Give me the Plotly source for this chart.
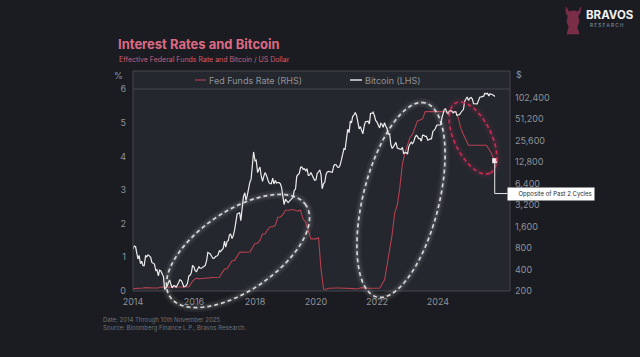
import numpy as np
import plotly.graph_objects as go

# ---------------- data ----------------
# Bitcoin (USD), semi-monthly (1st and 15th of each month)
btc_2014 = [770, 850, 830, 650, 560, 630, 480, 520, 450, 450, 630, 600,
            640, 620, 590, 500, 480, 475, 385, 395, 325, 390, 380, 345]
btc_2015 = [315, 210, 225, 235, 260, 285, 245, 220, 235, 237, 225, 237,
            260, 285, 280, 260, 228, 230, 237, 255, 325, 330, 360, 455]
btc_2016 = [430, 385, 372, 405, 435, 415, 416, 430, 450, 455, 535, 690,
            675, 660, 605, 570, 575, 608, 615, 640, 730, 710, 755, 780]
btc_2017 = [1000, 820, 990, 1010, 1220, 1250, 1080, 1180, 1420, 1750, 2400, 2450,
            2490, 1930, 2720, 4150, 4740, 3700, 4400, 5700, 6740, 7300, 10900, 17700]
btc_2018 = [13400, 13600, 9100, 10000, 10900, 8300, 6850, 8000, 9100, 8500, 7500, 6600,
            6350, 6350, 7600, 6300, 7050, 6500, 6600, 6600, 6350, 5600, 4200, 3250]
btc_2019 = [3850, 3600, 3450, 3600, 3800, 3900, 4100, 5100, 5350, 8000, 8550, 8850,
            10800, 10900, 10100, 10300, 9600, 10300, 8300, 8350, 9150, 8500, 7550, 7100]
btc_2020 = [7200, 8800, 9350, 9900, 8600, 5400, 6400, 6600, 8650, 9300, 9450, 9400,
            9140, 9200, 11350, 11800, 11650, 10800, 10780, 11500, 13800, 16000, 19700, 19300]
btc_2021 = [29000, 36800, 33100, 47900, 45200, 55600, 58800, 63000, 57700, 46500, 37300, 40100,
            35000, 31800, 41500, 47000, 47100, 48100, 43800, 61500, 61300, 64000, 57000, 48900]
btc_2022 = [46300, 43100, 38500, 44500, 43200, 39300, 45500, 40500, 37700, 31300, 31800, 22500,
            19800, 20800, 23300, 24100, 20050, 19700, 19400, 19100, 20500, 16900, 17200, 17400]
btc_2023 = [16550, 20900, 23100, 24300, 23150, 24400, 28500, 30300, 29250, 27200, 27200, 25100,
            30500, 30300, 29200, 29200, 25900, 26600, 27000, 27000, 34500, 35500, 37700, 42000]
btc_2024 = [42300, 42500, 42600, 51900, 61200, 69500, 71300, 63400, 60600, 66200, 67500, 66100,
            62700, 64800, 64600, 57500, 58900, 59200, 63300, 67000, 70200, 91000, 96400, 104500]
btc_2025 = [93400, 100500, 102400, 97500, 84300, 84300, 82500, 83600, 94200, 103700, 104600, 105500,
            107100, 117800, 115700, 117400, 108200, 116000, 114000, 111000, 109500, 106000]

# Effective Federal Funds Rate (%), monthly
ffr_2014 = [0.07, 0.07, 0.08, 0.09, 0.09, 0.10, 0.09, 0.09, 0.09, 0.09, 0.09, 0.12]
ffr_2015 = [0.11, 0.11, 0.11, 0.12, 0.12, 0.13, 0.13, 0.14, 0.14, 0.12, 0.12, 0.24]
ffr_2016 = [0.34, 0.38, 0.36, 0.37, 0.37, 0.38, 0.39, 0.40, 0.40, 0.40, 0.41, 0.54]
ffr_2017 = [0.65, 0.66, 0.79, 0.90, 0.91, 1.04, 1.15, 1.16, 1.15, 1.15, 1.16, 1.30]
ffr_2018 = [1.41, 1.42, 1.51, 1.69, 1.70, 1.82, 1.91, 1.91, 1.95, 2.19, 2.20, 2.27]
ffr_2019 = [2.40, 2.40, 2.41, 2.42, 2.39, 2.38, 2.40, 2.13, 2.04, 1.83, 1.55, 1.55]
ffr_2020 = [1.55, 1.58, 0.65, 0.05, 0.05, 0.08, 0.09, 0.10, 0.09, 0.09, 0.09, 0.09]
ffr_2021 = [0.09, 0.08, 0.07, 0.07, 0.06, 0.08, 0.10, 0.09, 0.08, 0.08, 0.08, 0.08]
ffr_2022 = [0.08, 0.08, 0.20, 0.33, 0.77, 1.21, 1.68, 2.33, 2.56, 3.08, 3.78, 4.10]
ffr_2023 = [4.33, 4.57, 4.65, 4.83, 5.06, 5.08, 5.12, 5.33, 5.33, 5.33, 5.33, 5.33]
ffr_2024 = [5.33, 5.33, 5.33, 5.33, 5.33, 5.33, 5.33, 5.33, 5.13, 4.83, 4.64, 4.48]
ffr_2025 = [4.33, 4.33, 4.33, 4.33, 4.33, 4.33, 4.33, 4.33, 4.22, 4.09, 3.87]

years = list(range(2014, 2026))
x_tick_years = [2014, 2016, 2018, 2020, 2022, 2024]
left_ticks = [0, 1, 2, 3, 4, 5, 6]
right_ticks = [200, 400, 800, 1600, 3200, 6400, 12800, 25600, 51200, 102400]

btc_values = (btc_2014 + btc_2015 + btc_2016 + btc_2017 + btc_2018 + btc_2019 +
              btc_2020 + btc_2021 + btc_2022 + btc_2023 + btc_2024 + btc_2025)
ffr_values = (ffr_2014 + ffr_2015 + ffr_2016 + ffr_2017 + ffr_2018 + ffr_2019 +
              ffr_2020 + ffr_2021 + ffr_2022 + ffr_2023 + ffr_2024 + ffr_2025)

btc_dates = []
for y in years:
    for m in range(1, 13):
        for d in (1, 15):
            btc_dates.append(f"{y}-{m:02d}-{d:02d}")
btc_dates = btc_dates[:len(btc_values) - 1] + ["2025-11-10"]

ffr_dates = []
for y in years:
    for m in range(1, 13):
        ffr_dates.append(f"{y}-{m:02d}-01")
ffr_dates = ffr_dates[:len(ffr_values) - 1] + ["2025-11-10"]

# ---------------- layout geometry (pixels) ----------------
W, H = 640, 357
L, R, T, B = 133, 510, 89, 291
PW, PH = R - L, B - T


def px(x):
    return (x - L) / PW


def py(y):
    return (B - y) / PH


BG = "#1a1c21"
PLOT_BG = "#24272e"
TICK_COL = "#8f929a"
FONT = "Inter, Roboto, sans-serif"

fig = go.Figure()

fig.add_trace(go.Scatter(
    x=ffr_dates, y=ffr_values, yaxis="y", mode="lines",
    line=dict(color="#b3404f", width=1.1), name="Fed Funds Rate (RHS)",
    showlegend=False, hoverinfo="skip"))
fig.add_trace(go.Scatter(
    x=btc_dates, y=btc_values, yaxis="y2", mode="lines",
    line=dict(color="#ececec", width=1.2), name="Bitcoin (LHS)",
    showlegend=False, hoverinfo="skip"))

shapes = []
annotations = []

# frame with legend strip
shapes.append(dict(type="rect", xref="paper", yref="paper", x0=0, x1=1, y0=1, y1=py(71),
                   fillcolor=PLOT_BG, line=dict(width=0), layer="below"))
shapes.append(dict(type="rect", xref="paper", yref="paper", x0=0, x1=1, y0=0, y1=py(71),
                   line=dict(color="#44474f", width=1), layer="above"))
shapes.append(dict(type="line", xref="paper", yref="paper", x0=0, x1=1, y0=1, y1=1,
                   line=dict(color="#44474f", width=1), layer="above"))

# legend (manual)
shapes.append(dict(type="line", xref="paper", yref="paper", x0=px(195), x1=px(206),
                   y0=py(80), y1=py(80), line=dict(color="#b3404f", width=1.2)))
annotations.append(dict(text="Fed Funds Rate (RHS)", xref="paper", yref="paper",
                        x=px(207), y=py(80), xanchor="left", yanchor="middle",
                        showarrow=False, font=dict(size=9, color=TICK_COL, family=FONT)))
shapes.append(dict(type="line", xref="paper", yref="paper", x0=px(350), x1=px(362),
                   y0=py(80), y1=py(80), line=dict(color="#ececec", width=1.4)))
annotations.append(dict(text="Bitcoin (LHS)", xref="paper", yref="paper",
                        x=px(363), y=py(80), xanchor="left", yanchor="middle",
                        showarrow=False, font=dict(size=9, color=TICK_COL, family=FONT)))


def ellipse_path(cx, cy, a, b, theta_deg, n=140):
    t = np.linspace(0, 2 * np.pi, n)
    th = np.radians(theta_deg)
    xs = cx + a * np.cos(t) * np.cos(th) - b * np.sin(t) * np.sin(th)
    ys = cy - (a * np.cos(t) * np.sin(th) + b * np.sin(t) * np.cos(th))
    pts = [f"{px(x):.5f},{py(y):.5f}" for x, y in zip(xs, ys)]
    return "M " + " L ".join(pts) + " Z"


def glow_ellipse(cx, cy, a, b, th, color):
    p = ellipse_path(cx, cy, a, b, th)
    shapes.append(dict(type="path", xref="paper", yref="paper", path=p,
                       line=dict(color=color, width=9), opacity=0.05))
    shapes.append(dict(type="path", xref="paper", yref="paper", path=p,
                       line=dict(color=color, width=4.5), opacity=0.10))
    shapes.append(dict(type="path", xref="paper", yref="paper", path=p,
                       line=dict(color=color, width=1.7, dash="4px,3px"), opacity=0.9))


glow_ellipse(238, 251, 82, 40, 34, "#e8e8e8")
glow_ellipse(401, 200, 100, 38, 76, "#e8e8e8")
glow_ellipse(473, 138, 39, 18.5, -64, "#d42f58")

# end marker + connector to callout
last_date = ffr_dates[-1]
last_ffr = ffr_values[-1]
conn_y = 6 * (B - 193.5) / PH
shapes.append(dict(type="line", xref="x", yref="y", x0=last_date, x1=last_date,
                   y0=last_ffr, y1=conn_y, line=dict(color="#e6e6e6", width=1)))
shapes.append(dict(type="line", xref="x", yref="y", x0=last_date, x1="2026-04-10",
                   y0=conn_y, y1=conn_y, line=dict(color="#e6e6e6", width=1)))
fig.add_trace(go.Scatter(x=[last_date], y=[last_ffr], yaxis="y", mode="markers",
                         marker=dict(symbol="square", size=5, color="#ffffff"),
                         showlegend=False, hoverinfo="skip", cliponaxis=False))

annotations.append(dict(text="     Opposite of Past 2 Cycles", xref="paper", yref="paper",
                        x=px(507), y=py(193.5), xanchor="left", yanchor="middle",
                        showarrow=False, bgcolor="#ffffff", borderpad=2,
                        font=dict(size=6, color="#2b2b30", family=FONT)))
shapes.append(dict(type="circle", xref="paper", yref="paper",
                   x0=px(509), x1=px(512.5), y0=py(195.2), y1=py(191.8),
                   fillcolor="#d42f58", line=dict(width=0)))

# axis unit labels
annotations.append(dict(text="%", xref="paper", yref="paper", x=px(125), y=py(76),
                        xanchor="right", yanchor="middle", showarrow=False,
                        font=dict(size=9, color=TICK_COL, family=FONT)))
annotations.append(dict(text="$", xref="paper", yref="paper", x=px(514), y=py(75),
                        xanchor="left", yanchor="middle", showarrow=False,
                        font=dict(size=9, color=TICK_COL, family=FONT)))

# title & subtitle
annotations.append(dict(text="<b>Interest Rates and Bitcoin</b>", xref="paper", yref="paper",
                        x=px(116), y=py(44), xanchor="left", yanchor="middle", showarrow=False,
                        font=dict(size=13, color="#dc6a84", family=FONT)))
annotations.append(dict(text="Effective Federal Funds Rate and Bitcoin / US Dollar",
                        xref="paper", yref="paper", x=px(117), y=py(59.5),
                        xanchor="left", yanchor="middle", showarrow=False,
                        font=dict(size=7, color="#d05d77", family=FONT)))

# footer
annotations.append(dict(text="Date: 2014 Through 10th November 2025.", xref="paper", yref="paper",
                        x=px(101), y=py(320), xanchor="left", yanchor="middle", showarrow=False,
                        font=dict(size=6, color="#6f727a", family=FONT)))
annotations.append(dict(text="Source: Bloomberg Finance L.P., Bravos Research.", xref="paper",
                        yref="paper", x=px(101), y=py(328), xanchor="left", yanchor="middle",
                        showarrow=False, font=dict(size=6, color="#6f727a", family=FONT)))

# logo
logo = [(566, 7), (569, 12), (572, 11), (575, 11), (578, 12), (581, 7), (580, 13), (578, 16),
        (579, 22), (577, 27), (579, 34), (567, 34), (569, 27), (567, 22), (568, 16), (566, 13)]
shapes.append(dict(type="path", xref="paper", yref="paper",
                   path="M " + " L ".join(f"{px(a):.5f},{py(b):.5f}" for a, b in logo) + " Z",
                   fillcolor="#7a2d46", line=dict(color="#8e3552", width=0.5)))
annotations.append(dict(text="<b>BRAVOS</b>", xref="paper", yref="paper", x=px(584), y=py(15),
                        xanchor="left", yanchor="middle", showarrow=False,
                        font=dict(size=11.5, color="#f2f2f2", family=FONT)))
annotations.append(dict(text="R E S E A R C H", xref="paper", yref="paper", x=px(588), y=py(25.5),
                        xanchor="left", yanchor="middle", showarrow=False,
                        font=dict(size=4.6, color="#9a9ca3", family=FONT)))

fig.update_layout(
    width=W, height=H,
    margin=dict(l=L, r=W - R, t=T, b=H - B, pad=0),
    paper_bgcolor=BG, plot_bgcolor=PLOT_BG,
    font=dict(family=FONT, size=9, color=TICK_COL),
    shapes=shapes, annotations=annotations,
    hovermode=False,
    xaxis=dict(type="date", range=["2014-01-01", "2026-05-12"],
               tickvals=[f"{y}-01-01" for y in x_tick_years],
               ticktext=[str(y) for y in x_tick_years],
               showgrid=False, zeroline=False, showline=False, ticks="",
               ticklabelstandoff=4, tickfont=dict(size=9, color=TICK_COL)),
    yaxis=dict(range=[0, 6.001], tickvals=left_ticks, ticktext=[str(v) for v in left_ticks],
               showgrid=False, zeroline=False, showline=False, ticks="",
               ticklabelstandoff=6, tickfont=dict(size=9, color=TICK_COL)),
    yaxis2=dict(type="log", overlaying="y", side="right",
                range=[np.log10(200) - 0.002, 5.1307],
                tickvals=right_ticks, ticktext=[f"{v:,}" for v in right_ticks],
                showgrid=False, zeroline=False, showline=False, ticks="",
                ticklabelstandoff=4, tickfont=dict(size=9, color=TICK_COL)),
    showlegend=False,
)

fig.write_html(
    "out.html",
    config={"displayModeBar": False, "staticPlot": True},
    post_script="document.body.style.margin='0';document.body.style.padding='0';"
                "document.body.style.background='" + BG + "';",
)
